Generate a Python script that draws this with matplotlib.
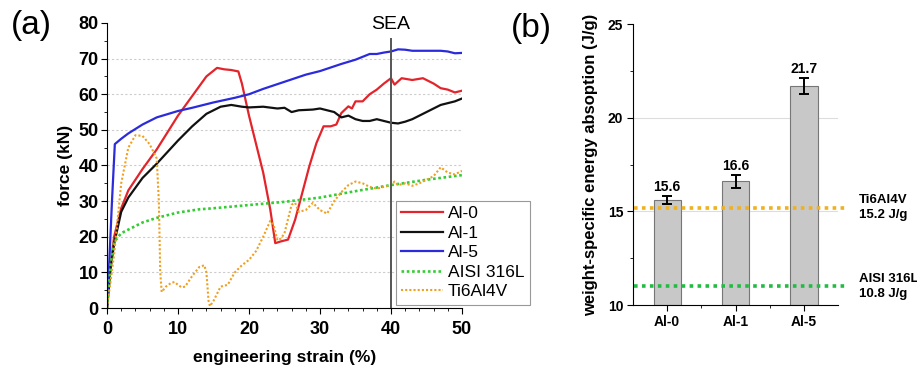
import numpy as np
import matplotlib
matplotlib.use("Agg")
import matplotlib.pyplot as plt
from matplotlib.ticker import MultipleLocator, FixedLocator

plt.rcParams['font.family'] = ['Liberation Sans', 'DejaVu Sans']

# panel (a): force vs engineering strain
al0_x = [0, 0.5, 1, 2, 3, 5, 7, 10, 12, 14, 15.5, 16.5, 17.5, 18.5, 19, 20, 21, 22, 23,
         23.7, 24.5, 25.5, 26.5, 27.5, 28.5, 29.5, 30.5, 31.5, 32.3, 33, 34, 34.5, 35,
         36, 37, 38, 39, 40, 40.5, 41.5, 43, 44.5, 46, 47, 48, 49, 50]
al0_y = [0, 12, 20, 28, 33, 39, 44.5, 54, 59.5, 65, 67.4, 67, 66.8, 66.4, 63, 54, 46, 38,
         27.6, 18.2, 18.7, 19.2, 24.8, 32.3, 39.8, 46.3, 51, 51, 51.5, 54.7, 56.6, 56,
         58, 58, 60, 61.3, 63, 64.5, 62.7, 64.5, 64, 64.5, 63, 61.7, 61.3, 60.5, 61]

al1_x = [0, 0.5, 1, 2, 3, 5, 7, 10, 12, 14, 16, 17.5, 19, 20, 22, 24, 25, 26, 27, 28, 29,
         30, 31, 32, 33, 34, 35, 36, 37, 38, 39, 40, 41, 42, 43, 44, 45, 46, 47, 48, 49, 50]
al1_y = [0, 11, 18, 27, 31, 36.5, 40.5, 47, 51, 54.5, 56.5, 57, 56.5, 56.3, 56.5, 56,
         56.2, 55, 55.5, 55.6, 55.7, 56, 55.5, 55, 53.5, 54, 53, 52.5, 52.5, 53, 52.5,
         52, 51.8, 52.3, 53, 54, 55, 56, 57, 57.5, 58, 58.8]

al5_x = [0, 0.3, 0.7, 1.1, 2, 3, 5, 7, 10, 12, 15, 18, 20, 22, 25, 28, 30, 33, 35, 37,
         38, 39, 40, 41, 42, 43, 45, 47, 48, 49, 50]
al5_y = [0, 12, 30, 46, 47.5, 49, 51.5, 53.5, 55.3, 56.2, 57.7, 59, 60, 61.5, 63.5, 65.5,
         66.5, 68.5, 69.7, 71.3, 71.3, 71.7, 72, 72.6, 72.5, 72.2, 72.2, 72.2, 72, 71.5,
         71.6]

aisi_x = [0, 0.5, 1, 2, 3, 5, 7, 10, 13, 15, 20, 25, 30, 35, 40, 45, 50]
aisi_y = [0, 12, 18.5, 21, 22, 24, 25.3, 26.8, 27.7, 28, 28.9, 29.8, 31, 32.8, 34.5, 36,
          37.3]

ti_x = [0, 1, 2, 3, 4, 5, 6, 7, 7.3, 7.5, 7.7, 8.3, 9, 9.5, 10, 10.5, 11, 12, 13, 13.7,
        14, 14.3, 14.5, 15, 16, 17, 18, 19, 20, 21, 22, 23, 23.5, 24, 24.5, 25, 26, 26.5,
        27, 28, 29, 30, 31, 32, 33, 34, 35, 36, 37, 38, 39, 40, 40.5, 41, 42, 43, 44, 45,
        46, 47, 48, 49, 50]
ti_y = [0, 15, 35, 45, 48.5, 48.3, 46, 42, 30, 10, 4.5, 6, 7, 7.3, 6.5, 5.8, 6, 9, 11.5,
        12, 10, 2, 0.5, 2, 6, 6.5, 10, 12, 13.5, 16, 20, 24.5, 23, 19, 19.5, 21, 29, 29.5,
        27, 27.5, 29.5, 27.5, 26.5, 30, 32.5, 34.5, 35.5, 35, 34, 33.5, 34, 34.5, 35.5,
        34.5, 35, 34.3, 35, 36, 37, 39.5, 38, 37.5, 38.5]

sea_strain = 40

# panel (b): weight-specific energy absorption
alloys = ['Al-0', 'Al-1', 'Al-5']
sea_vals = [15.6, 16.6, 21.7]
sea_err = [0.22, 0.35, 0.42]
ref_names = ['Ti6Al4V', 'AISI 316L']
ref_lines = [15.2, 11.0]
ref_labels = ['15.2 J/g', '10.8 J/g']

fig = plt.figure(figsize=(9.17, 3.69), dpi=100)

# ---- panel (a)
ax = fig.add_axes([0.1167, 0.1653, 0.3871, 0.7724])
ax.plot(al0_x, al0_y, color='#e3242b', lw=1.6, label='Al-0')
ax.plot(al1_x, al1_y, color='#111111', lw=1.6, label='Al-1')
ax.plot(al5_x, al5_y, color='#2b2bdc', lw=1.6, label='Al-5')
ax.plot(aisi_x, aisi_y, color='#33cc33', lw=1.9, ls=(0, (1, 1)), label='AISI 316L')
ax.plot(ti_x, ti_y, color='#f0a020', lw=1.5, ls=(0, (1, 1)), label='Ti6Al4V')
ax.axvline(sea_strain, ymax=75.5 / 80, color='#555555', lw=1.4)
ax.text(sea_strain, 79.5, 'SEA', ha='center', va='center', fontsize=14)

ax.set_xlim(0, 50)
ax.set_ylim(0, 80)
ax.xaxis.set_major_locator(MultipleLocator(10))
ax.xaxis.set_minor_locator(MultipleLocator(2))
ax.yaxis.set_major_locator(MultipleLocator(10))
ax.yaxis.set_minor_locator(MultipleLocator(5))
for yv in range(10, 80, 10):
    ax.axhline(yv, color='#cccccc', lw=0.8, ls=(0, (2, 2)), zorder=0)
for s in ['top', 'right']:
    ax.spines[s].set_visible(False)
ax.tick_params(axis='y', which='major', length=4, labelsize=13, pad=2)
ax.tick_params(axis='x', which='major', length=4, labelsize=13, pad=5)
ax.tick_params(which='minor', length=2)
for t in ax.get_xticklabels() + ax.get_yticklabels():
    t.set_fontweight('bold')
ax.set_xlabel('engineering strain (%)', fontsize=12.5, fontweight='bold', labelpad=9)
ax.set_ylabel('force (kN)', fontsize=12.5, fontweight='bold', labelpad=4)
leg = ax.legend(loc='lower left', bbox_to_anchor=(0.814, 0.012), fontsize=12.5,
                frameon=True, fancybox=False, edgecolor='#999999', framealpha=1,
                borderaxespad=0, handlelength=2.4, labelspacing=0.25,
                borderpad=0.3, handletextpad=0.3)
leg.get_frame().set_linewidth(0.8)
fig.text(0.034, 0.932, '(a)', fontsize=24, ha='center', va='center')

# ---- panel (b)
bx = fig.add_axes([0.6903, 0.1734, 0.2236, 0.7615])
pos = np.arange(1, len(alloys) + 1)
for yv in [15, 20]:
    bx.axhline(yv, color='#dddddd', lw=0.8, zorder=0)
bx.bar(pos, [v - 10 for v in sea_vals], bottom=10, width=0.4, color='#c8c8c8',
       edgecolor='#777777', lw=0.8, zorder=2)
bx.errorbar(pos, sea_vals, yerr=sea_err, fmt='none', ecolor='black', elinewidth=1.4,
            capsize=3.5, capthick=1.4, zorder=3)
for p, v, e in zip(pos, sea_vals, sea_err):
    bx.text(p, v + e + 0.1, f'{v:.1f}', ha='center', va='bottom', fontsize=10,
            fontweight='bold')
ref_colors = ['#f0b020', '#22bb44']
for val, name, lab, c in zip(ref_lines, ref_names, ref_labels, ref_colors):
    bx.plot([0.52, 3.65], [val, val], color=c, lw=2.6, ls=(0, (1, 1.2)),
            clip_on=False, zorder=4)
    bx.text(3.8, val, name + '\n' + lab, ha='left', va='center', fontsize=9.5,
            fontweight='bold', linespacing=1.3)

bx.set_xlim(0.5, 3.5)
bx.set_ylim(10, 25)
bx.set_xticks(pos)
bx.set_xticklabels(alloys)
bx.xaxis.set_minor_locator(FixedLocator([1.5, 2.5]))
bx.yaxis.set_major_locator(MultipleLocator(5))
bx.yaxis.set_minor_locator(MultipleLocator(2.5))
for s in ['top', 'right']:
    bx.spines[s].set_visible(False)
bx.tick_params(which='major', length=4, labelsize=10, pad=3)
bx.tick_params(which='minor', length=2)
for t in bx.get_xticklabels() + bx.get_yticklabels():
    t.set_fontweight('bold')
bx.set_ylabel('weight-specific energy absoption (J/g)', fontsize=12,
              fontweight='bold', labelpad=7)
fig.text(0.579, 0.924, '(b)', fontsize=24, ha='center', va='center')

fig.savefig('out.png', dpi=100)
